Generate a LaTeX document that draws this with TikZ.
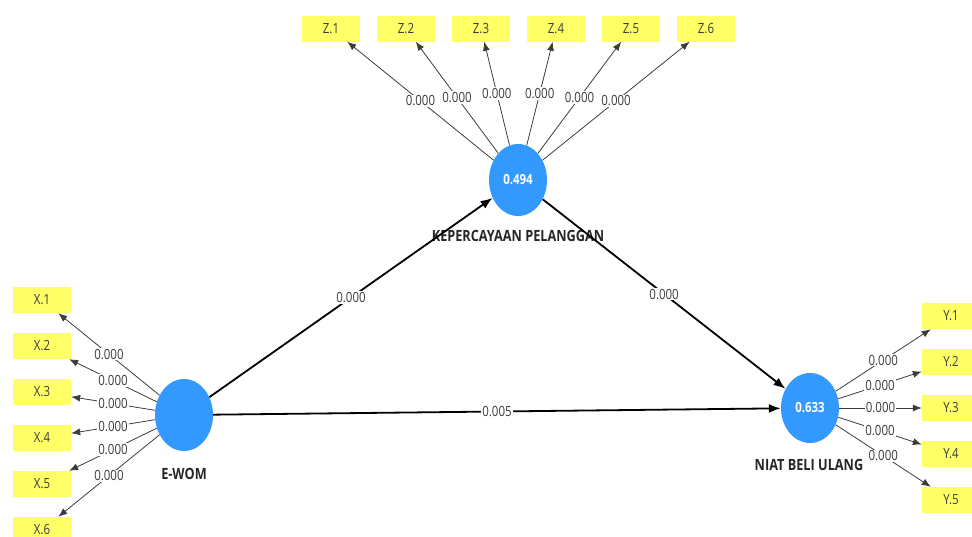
\documentclass[tikz,border=0pt]{standalone}
\usepackage{fontspec}
\setmainfont{Open Sans}[FakeStretch=0.82]
\usetikzlibrary{arrows.meta, shapes.geometric}
\definecolor{lvblue}{RGB}{51,153,255}
\definecolor{mvyellow}{RGB}{255,255,102}
\definecolor{pathgray}{RGB}{60,60,60}

\begin{document}
\begin{tikzpicture}[x=1pt, y=-1pt, font=\fontsize{14}{16}\selectfont,
	lv/.style={ellipse, fill=lvblue, minimum width=58pt, minimum height=72pt, inner sep=0pt,
		text=white, font=\fontsize{14}{16}\selectfont\bfseries},
	lvname/.style={font=\fontsize{15.5}{17}\selectfont\bfseries, text=black!85},
	mv/.style={fill=mvyellow, minimum width=58pt, minimum height=26pt, inner sep=0pt, text=pathgray},
	lbl/.style={fill=white, inner sep=1pt, text=pathgray},
	ind/.style={draw=pathgray, line width=0.8pt, -{Latex[length=9pt,width=7pt]}},
	inner/.style={draw=black, line width=1.8pt, -{Latex[length=12pt,width=9pt]}}]
\useasboundingbox (0,0) rectangle (972,536);
% latent variables
\node[lv] (ewom) at (184,415) {};
\node[lv] (kp) at (518,180) {0.494};
\node[lv, minimum height=70pt] (nbu) at (810,408) {0.633};
\node[lvname] (ewomname) at (184,474) {E-WOM};
\node[lvname] (kpname) at (518,236) {KEPERCAYAAN PELANGGAN};
\node[lvname] (nbuname) at (809,465) {NIAT BELI ULANG};
% indicators
\node[mv] (z1) at (331,28.5) {Z.1};
\node[mv] (z2) at (406,28.5) {Z.2};
\node[mv] (z3) at (481,28.5) {Z.3};
\node[mv] (z4) at (556,28.5) {Z.4};
\node[mv] (z5) at (631,28.5) {Z.5};
\node[mv] (z6) at (706,28.5) {Z.6};
\node[mv] (x1) at (42,300) {X.1};
\node[mv] (x2) at (42,346) {X.2};
\node[mv] (x3) at (42,392) {X.3};
\node[mv] (x4) at (42,438) {X.4};
\node[mv] (x5) at (42,484) {X.5};
\node[mv] (x6) at (42,530) {X.6};
\node[mv] (y1) at (951,316) {Y.1};
\node[mv] (y2) at (951,362) {Y.2};
\node[mv] (y3) at (951,408) {Y.3};
\node[mv] (y4) at (951,454) {Y.4};
\node[mv] (y5) at (951,500) {Y.5};
% outer loadings
\draw[ind] (kp) -- node[lbl] {0.000} (z1);
\draw[ind] (kp) -- node[lbl] {0.000} (z2);
\draw[ind] (kp) -- node[lbl] {0.000} (z3);
\draw[ind] (kp) -- node[lbl] {0.000} (z4);
\draw[ind] (kp) -- node[lbl] {0.000} (z5);
\draw[ind] (kp) -- node[lbl] {0.000} (z6);
\draw[ind] (ewom) -- node[lbl] {0.000} (x1);
\draw[ind] (ewom) -- node[lbl] {0.000} (x2);
\draw[ind] (ewom) -- node[lbl] {0.000} (x3);
\draw[ind] (ewom) -- node[lbl] {0.000} (x4);
\draw[ind] (ewom) -- node[lbl] {0.000} (x5);
\draw[ind] (ewom) -- node[lbl] {0.000} (x6);
\draw[ind] (nbu) -- node[lbl] {0.000} (y1);
\draw[ind] (nbu) -- node[lbl] {0.000} (y2);
\draw[ind] (nbu) -- node[lbl] {0.000} (y3);
\draw[ind] (nbu) -- node[lbl] {0.000} (y4);
\draw[ind] (nbu) -- node[lbl] {0.000} (y5);
% inner model
\draw[inner] (ewom) -- node[lbl] {0.000} (kp);
\draw[inner] (kp) -- node[lbl] {0.000} (nbu);
\draw[inner] (ewom) -- node[lbl] {0.005} (nbu);
\end{tikzpicture}
\end{document}
